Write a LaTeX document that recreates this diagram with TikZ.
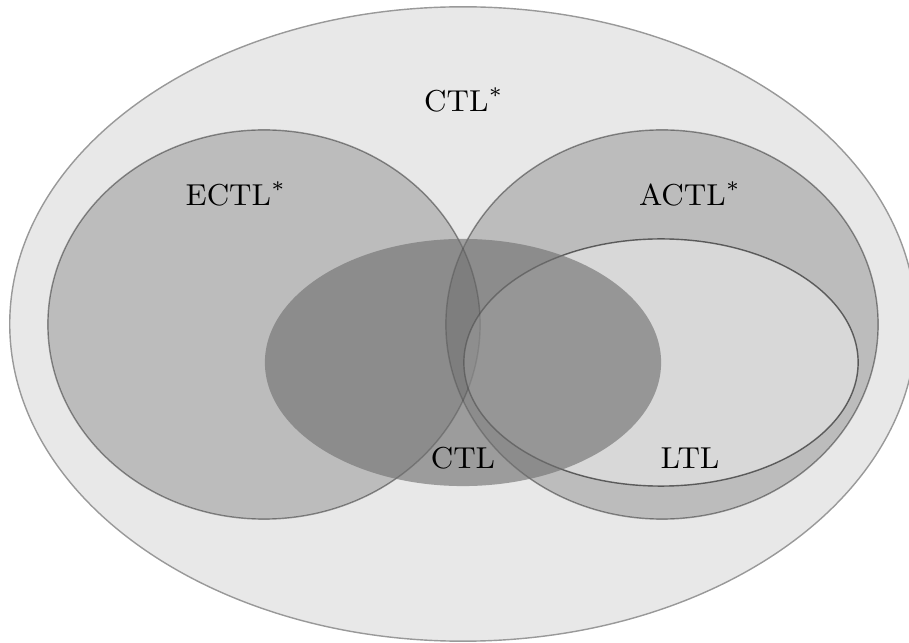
\documentclass[tikz,border=0pt]{standalone}
\begin{document}
\begin{tikzpicture}[x=0.01cm,y=-0.01cm,
  outerset/.style={fill=black!9, draw=black!40, line width=0.4pt},
  logicset/.style={fill=black, fill opacity=0.19, draw=black, draw opacity=0.4, line width=0.4pt},
  ltlset/.style={fill=white, fill opacity=0.42, draw=black, draw opacity=0.55, line width=0.4pt},
  ctlset/.style={fill=black!56, fill opacity=0.63},
  lbl/.style={font=\fontsize{8.6}{10}\selectfont, inner sep=0pt}]
  \useasboundingbox (0,0) rectangle (909,643);
  % CTL* universe
  \path[outerset] (463,324) ellipse [x radius=4.53cm, y radius=3.17cm];
  % existential and universal fragments
  \path[logicset] (264,324.5) ellipse [x radius=2.16cm, y radius=1.945cm];
  \path[logicset] (662,324.5) ellipse [x radius=2.16cm, y radius=1.945cm];
  % LTL inside ACTL*
  \path[ltlset] (661,362.5) ellipse [x radius=1.97cm, y radius=1.235cm];
  % CTL
  \path[ctlset] (463,362.5) ellipse [x radius=1.98cm, y radius=1.235cm];
  % labels
  \node[lbl] (ctlstar) at (464,100) {CTL$^*$};
  \node[lbl] (ectl) at (236,194) {ECTL$^*$};
  \node[lbl] (actl) at (690,194) {ACTL$^*$};
  \node[lbl] (ctl) at (463,458) {CTL};
  \node[lbl] (ltl) at (690,458) {LTL};
\end{tikzpicture}
\end{document}
